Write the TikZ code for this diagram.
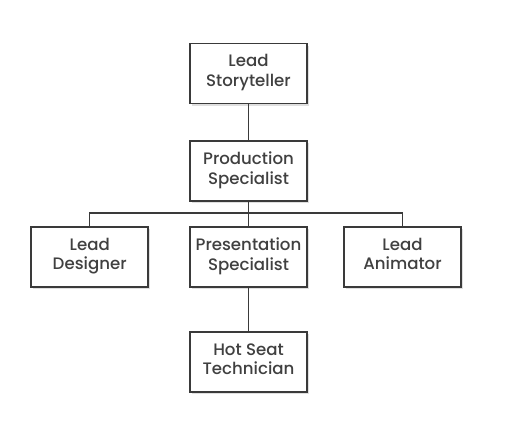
\documentclass[tikz,border=0pt]{standalone}
\usepackage{fontspec}
\setmainfont{Poppins}[UprightFont={* Medium}]
\usetikzlibrary{shadows}

\definecolor{boxline}{HTML}{3A3A3A}
\definecolor{boxtext}{HTML}{404040}

\begin{document}
\begin{tikzpicture}
[
	x=1pt,y=-1pt,
	role/.style={rectangle,draw=boxline,line width=1.5pt,fill=white,text=boxtext,
		minimum width=117pt,minimum height=60pt,align=center,inner sep=2pt,
		font=\fontsize{16.6}{19.5}\selectfont,
		execute at begin node=\strut,execute at end node=\strut,
		drop shadow={opacity=0.25,shadow xshift=1.5pt,shadow yshift=-2.5pt}},
	link/.style={draw=boxline,line width=1.2pt}
]

	\useasboundingbox[fill=white] (0,0) rectangle (507,422);

	% boxes
	\node[role] at (248.5,73.5) (story) {Lead\\Storyteller};
	\node[role] at (248.5,171) (prod) {Production\\Specialist};
	\node[role] at (89.7,257) (design) {Lead\\Designer};
	\node[role] at (248.5,257) (present) {Presentation\\Specialist};
	\node[role] at (402.5,257) (anim) {Lead\\Animator};
	\node[role] at (248.5,362) (hotseat) {Hot Seat\\Technician};

	% lines
	\coordinate (bar) at (248.5,213);
	\path[link] (story.south) -- (prod.north);
	\path[link] (prod.south) -- (present.north);
	\path[link] (design.north) |- (bar) -| (anim.north);
	\path[link] (present.south) -- (hotseat.north);

\end{tikzpicture}
\end{document}
